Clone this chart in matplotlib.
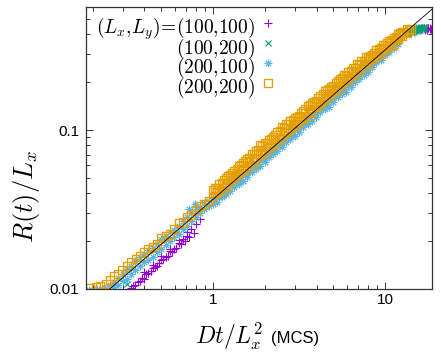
import matplotlib
matplotlib.use("Agg")
import matplotlib.pyplot as plt
from matplotlib.lines import Line2D
from matplotlib.ticker import LogLocator, NullFormatter, FixedLocator, FixedFormatter
import numpy as np

plt.rcParams['mathtext.fontset'] = 'cm'
plt.rcParams['font.family'] = ['Liberation Sans', 'DejaVu Sans']

# ---------------- data ----------------
series_labels = [r'$(L_x{,}L_y)\!=\!(100{,}100)$', r'$(100{,}200)$',
                 r'$(200{,}100)$', r'$(200{,}200)$']
series_colors = ['#9400d3', '#009e73', '#56b4e9', '#e69f00']

x_dense = [1.000, 1.059, 1.122, 1.189, 1.259, 1.334, 1.413, 1.496, 1.585, 1.679,
           1.778, 1.884, 1.995, 2.113, 2.239, 2.371, 2.512, 2.661, 2.818, 2.985,
           3.162, 3.350, 3.548, 3.758, 3.981, 4.217, 4.467, 4.732, 5.012, 5.309,
           5.623, 5.957, 6.310, 6.683, 7.079, 7.499, 7.943, 8.414, 8.913, 9.441,
           10.00, 10.59, 11.22, 11.89, 12.59, 13.34, 14.13]
x_half = [1.029, 1.090, 1.155, 1.223, 1.296, 1.373, 1.454, 1.540, 1.631, 1.728,
          1.830, 1.939, 2.054, 2.175, 2.304, 2.441, 2.585, 2.738, 2.901, 3.072,
          3.254, 3.447, 3.652, 3.868, 4.097, 4.340, 4.597, 4.870, 5.158, 5.464,
          5.788, 6.131, 6.494, 6.879, 7.286, 7.718, 8.175, 8.660, 9.173, 9.716,
          10.29, 10.90, 11.55, 12.23, 12.96, 13.73]

# (200,200) orange squares
orange_x_low = [0.192, 0.208, 0.222, 0.238, 0.252, 0.265, 0.281, 0.298, 0.316, 0.335,
                0.355, 0.376, 0.398, 0.4217, 0.4467, 0.4732, 0.5012, 0.5309, 0.5623,
                0.5957, 0.6310, 0.6683, 0.7079, 0.7499, 0.7943, 0.8414, 0.8913, 0.9441]
orange_y_low = [0.0101, 0.0103, 0.0105, 0.0108, 0.0114, 0.0120, 0.0125, 0.0132, 0.0140,
                0.0148, 0.0154, 0.0162, 0.0170, 0.01774, 0.01845, 0.01920, 0.02086,
                0.02169, 0.02225, 0.02384, 0.02590, 0.02656, 0.02843, 0.02916, 0.03125,
                0.03345, 0.03430, 0.03568]
orange_y_upper = [0.04169, 0.04339, 0.04646, 0.04977, 0.05177, 0.05545, 0.05940, 0.06180,
                  0.06619, 0.07089, 0.07376, 0.08017, 0.08337, 0.08676, 0.09025, 0.09667,
                  0.1051, 0.1093, 0.1137, 0.1183, 0.1230, 0.1318, 0.1412, 0.1469, 0.1528,
                  0.1637, 0.1753, 0.1824, 0.1897, 0.2032, 0.2114, 0.2200, 0.2355, 0.2451,
                  0.2551, 0.2731, 0.2842, 0.2957, 0.3167, 0.3295, 0.3427, 0.3618, 0.3765,
                  0.4031, 0.4132, 0.4300, 0.4347]
orange_y_lower = [0.03766, 0.04034, 0.04197, 0.04368, 0.04677, 0.05008, 0.05211, 0.05581,
                  0.05807, 0.06044, 0.06470, 0.06929, 0.07209, 0.07721, 0.08033, 0.08361,
                  0.08952, 0.09587, 0.09975, 0.1053, 0.1128, 0.1173, 0.1221, 0.1307,
                  0.1400, 0.1457, 0.1538, 0.1647, 0.1714, 0.1784, 0.1909, 0.2045, 0.2128,
                  0.2246, 0.2338, 0.2503, 0.2605, 0.2789, 0.2903, 0.3020, 0.3234, 0.3365,
                  0.3501, 0.3750, 0.3901, 0.4060]
orange_y_half = [0.04103, 0.04331, 0.04572, 0.04826, 0.05095, 0.05377, 0.05676, 0.05992,
                 0.06325, 0.06677, 0.07048, 0.07439, 0.07853, 0.08290, 0.08751, 0.09237,
                 0.09752, 0.1029, 0.1087, 0.1147, 0.1211, 0.1278, 0.1349, 0.1424, 0.1503,
                 0.1587, 0.1675, 0.1768, 0.1867, 0.1970, 0.2080, 0.2196, 0.2318, 0.2447,
                 0.2583, 0.2726, 0.2796, 0.2951, 0.3116, 0.3289, 0.3373, 0.3560, 0.3758,
                 0.3967, 0.4117, 0.4262]
orange_y_half_top = [0.04347, 0.04589, 0.04845, 0.05113, 0.05398, 0.05697, 0.06015,
                     0.06349, 0.06702, 0.07075, 0.07468, 0.07883, 0.08321, 0.08784,
                     0.09272, 0.09788, 0.1033, 0.1091, 0.1151, 0.1215, 0.1283, 0.1354,
                     0.1430, 0.1509, 0.1593, 0.1682, 0.1775, 0.1874, 0.1978, 0.2088,
                     0.2204, 0.2326, 0.2456, 0.2592, 0.2736, 0.2889, 0.2901, 0.3063,
                     0.3233, 0.3413, 0.3507, 0.3702, 0.3836, 0.4050]

# (200,100) blue stars
blue_x_low = [0.190, 0.1995, 0.2113, 0.2239, 0.2371,
              0.2512, 0.2512, 0.2661, 0.2661, 0.2818, 0.2818, 0.2985, 0.2985,
              0.3162, 0.3162, 0.3350, 0.3350, 0.3548, 0.3548, 0.3758, 0.3758,
              0.3981, 0.3981, 0.4217, 0.4217, 0.4467, 0.4467, 0.4732, 0.4732,
              0.5012, 0.5012, 0.5309, 0.5309, 0.5623, 0.5623, 0.5957, 0.5957,
              0.6310, 0.6310, 0.6683, 0.6683, 0.7079, 0.7079, 0.7499, 0.7499,
              0.7943, 0.7943, 0.8414, 0.8414, 0.8913, 0.8913, 0.9441, 0.9441,
              0.73, 0.79]
blue_y_low = [0.0098, 0.0099, 0.0100, 0.0098, 0.0101,
              0.0097, 0.0106, 0.0103, 0.0110, 0.0106, 0.0117, 0.0112, 0.0125,
              0.0116, 0.0133, 0.0124, 0.0140, 0.0131, 0.0150, 0.0139, 0.0158,
              0.0148, 0.0166, 0.0152, 0.0176, 0.0160, 0.0181, 0.0170, 0.0192,
              0.0178, 0.0205, 0.0190, 0.0215, 0.0200, 0.0228, 0.0212, 0.0236,
              0.0222, 0.0250, 0.0238, 0.0268, 0.0250, 0.0282, 0.0268, 0.0300,
              0.0282, 0.0318, 0.0300, 0.0330, 0.0318, 0.0345, 0.0335, 0.0360,
              0.0318, 0.0342]
blue_y_upper = [0.03713, 0.03808, 0.04079, 0.04183, 0.04480, 0.04661, 0.04991, 0.05194,
                0.05403, 0.05788, 0.06197, 0.06448, 0.06708, 0.07186, 0.07695, 0.08007,
                0.08330, 0.08922, 0.09554, 0.09942, 0.1034, 0.1108, 0.1186, 0.1235,
                0.1284, 0.1376, 0.1473, 0.1533, 0.1595, 0.1708, 0.1829, 0.1903, 0.1980,
                0.2121, 0.2271, 0.2363, 0.2458, 0.2633, 0.2820, 0.2934, 0.3052, 0.3270,
                0.3401, 0.3643]
blue_y_lower = [0.03404, 0.03543, 0.03793, 0.03947, 0.04107, 0.04399, 0.04576, 0.04761,
                0.05099, 0.05463, 0.05682, 0.05911, 0.06331, 0.06782, 0.07054, 0.07339,
                0.07861, 0.08421, 0.08760, 0.09114, 0.09761, 0.1046, 0.1088, 0.1132,
                0.1212, 0.1298, 0.1350, 0.1405, 0.1505, 0.1612, 0.1677, 0.1745, 0.1868,
                0.2002, 0.2082, 0.2230, 0.2320, 0.2485, 0.2661, 0.2769, 0.2965, 0.3086,
                0.3304, 0.3487]
blue_y_half = [0.03576, 0.03775, 0.03985, 0.04206, 0.04440, 0.04687, 0.04948, 0.05223,
               0.05513, 0.05820, 0.06143, 0.06484, 0.06845, 0.07226, 0.07627, 0.08051,
               0.08500, 0.08972, 0.09471, 0.09998, 0.1055, 0.1114, 0.1176, 0.1241,
               0.1310, 0.1383, 0.1460, 0.1541, 0.1627, 0.1717, 0.1813, 0.1914, 0.2020,
               0.2133, 0.2251, 0.2376, 0.2508, 0.2648, 0.2795, 0.2951, 0.3115, 0.3288,
               0.3471]

# (100,100) purple plus
purple_x = [0.3350, 0.3548, 0.3758, 0.3981, 0.4217, 0.4467, 0.4732, 0.5012, 0.5309,
            0.5623, 0.5957, 0.6310, 0.6683, 0.7079, 0.7499, 0.7943, 0.8414,
            0.3981, 0.4467, 0.5012, 0.5623, 0.6310, 0.7079,
            0.3447, 0.3652, 0.3868, 0.4097, 0.4340, 0.4597, 0.4870, 0.5158, 0.5464,
            0.5788, 0.6131, 0.6494, 0.6879, 0.7286, 0.7718,
            0.8913, 1.000, 1.122, 1.259, 1.413, 1.585, 1.778, 1.995, 2.239, 2.512,
            2.818, 3.162, 3.548, 3.981, 4.467, 5.012, 5.623, 6.310, 7.079, 7.943,
            8.913, 10.00, 11.22, 12.59,
            13.3, 14.0, 14.8, 15.5, 16.2, 16.8, 17.3, 17.8, 18.3, 18.7,
            17.0, 17.6, 18.2, 18.6]
purple_y = [0.01008, 0.01064, 0.01123, 0.01152, 0.01252, 0.01361, 0.01394, 0.01516,
            0.01600, 0.01739, 0.01783, 0.01937, 0.02075, 0.02158, 0.02382, 0.02550,
            0.02772,
            0.01275, 0.01421, 0.01607, 0.01790, 0.02025, 0.02288,
            0.01051, 0.01110, 0.01172, 0.01237, 0.01306, 0.01378, 0.01454, 0.01535,
            0.01620, 0.01711, 0.01806, 0.01906, 0.02012, 0.02124, 0.02243,
            0.03192, 0.03556, 0.03963, 0.04416, 0.04920, 0.05483, 0.06109, 0.06807,
            0.07585, 0.08453, 0.09419, 0.1050, 0.1169, 0.1303, 0.1452, 0.1618, 0.1803,
            0.2009, 0.2239, 0.2494, 0.2780, 0.3097, 0.3451, 0.3846,
            0.400, 0.415, 0.425, 0.430, 0.433, 0.436, 0.438, 0.440, 0.437, 0.439,
            0.425, 0.428, 0.430, 0.432]

# (100,200) green crosses
green_x = [0.316,
           1.122, 1.413, 1.778, 2.239, 2.818, 3.548, 4.467, 5.623, 7.079, 8.913, 11.22,
           13.0, 13.4, 13.8, 14.2, 14.6, 15.0, 15.4, 15.8, 16.2, 16.6, 17.0,
           14.4, 14.8, 15.2, 15.6, 16.0, 16.4, 16.8,
           14.4, 15.0, 15.6, 16.2, 16.8]
green_y = [0.0108,
           0.03906, 0.04849, 0.06021, 0.07475, 0.09282, 0.1152, 0.1431, 0.1777, 0.2206,
           0.2739, 0.3401,
           0.400, 0.408, 0.415, 0.420, 0.424, 0.428, 0.431, 0.434, 0.437, 0.440, 0.442,
           0.410, 0.414, 0.418, 0.422, 0.426, 0.430, 0.433,
           0.432, 0.438, 0.442, 0.444, 0.445]

fit_prefactor = 0.0366
fit_exponent = 0.94

x_limits = (0.183, 18.75)
y_limits = (0.01, 0.594)
x_major = [1, 10]
x_major_labels = ['1', '10']
y_major = [0.01, 0.1]
y_major_labels = ['0.01', '0.1']

# ---------------- figure ----------------
W, H = 441, 361
fig = plt.figure(figsize=(W / 100, H / 100), dpi=100)
ax = fig.add_axes([86 / W, 1 - 289 / H, (432 - 86) / W, (289 - 7) / H])
ax.set_xscale('log')
ax.set_yscale('log')

styles = [dict(marker='+', ms=6.0, mew=0.8),
          dict(marker='x', ms=4.6, mew=0.8),
          dict(marker=(8, 2, 0), ms=5.4, mew=0.7),
          dict(marker='s', ms=5.3, mfc='none', mew=0.95)]

data = [(purple_x, purple_y),
        (green_x, green_y),
        (blue_x_low + x_dense[:44] + x_dense[:44] + x_half[:43],
         blue_y_low + blue_y_upper + blue_y_lower + blue_y_half),
        (orange_x_low + x_dense + x_dense[:46] + x_half + x_half[:44],
         orange_y_low + orange_y_upper + orange_y_lower + orange_y_half
         + orange_y_half_top)]

for (xs, ys), col, st in zip(data, series_colors, styles):
    ax.plot(xs, ys, ls='none', color=col, **st)

xf = np.geomspace(x_limits[0], x_limits[1], 200)
ax.plot(xf, fit_prefactor * xf ** fit_exponent, color='black', lw=0.6, zorder=5)

ax.set_xlim(*x_limits)
ax.set_ylim(*y_limits)

ax.xaxis.set_major_locator(FixedLocator(x_major))
ax.xaxis.set_major_formatter(FixedFormatter(x_major_labels))
ax.yaxis.set_major_locator(FixedLocator(y_major))
ax.yaxis.set_major_formatter(FixedFormatter(y_major_labels))
ax.xaxis.set_minor_locator(LogLocator(base=10, subs=np.arange(2, 10)))
ax.yaxis.set_minor_locator(LogLocator(base=10, subs=np.arange(2, 10)))
ax.xaxis.set_minor_formatter(NullFormatter())
ax.yaxis.set_minor_formatter(NullFormatter())

ax.tick_params(which='both', direction='in', top=True, right=True, color='#333333',
               width=0.7, labelsize=11)
ax.tick_params(which='major', length=5)
ax.tick_params(which='minor', length=3)
ax.tick_params(axis='x', pad=3)
ax.tick_params(axis='y', pad=5)
for sp in ax.spines.values():
    sp.set_linewidth(0.9)
    sp.set_color('#333333')

# key (gnuplot style: right-aligned text, sample symbol to its right)
key_text_right = 255 / W
key_symbol_x = 268 / W
key_first_row = 23
key_row_step = 20
fig.text(key_text_right, 1 - 15 / H, '\n'.join(series_labels), ha='right', va='top',
         multialignment='right', fontsize=14, linespacing=0.72)
for i, (col, st) in enumerate(zip(series_colors, styles)):
    fig.add_artist(Line2D([key_symbol_x], [1 - (key_first_row + key_row_step * i) / H],
                          transform=fig.transFigure, ls='none', color=col, **st))

fig.text(27 / W, 1 - 197 / H, r'$R(t)/L_x$', rotation=90, ha='center', va='center',
         fontsize=19)
fig.text(195 / W, 1 - 344 / H, r'$Dt/L_x^2$', ha='left', va='baseline', fontsize=17)
fig.text(271 / W, 1 - 343 / H, '(MCS)', ha='left', va='baseline', fontsize=12)

fig.savefig('out.png', dpi=100)
